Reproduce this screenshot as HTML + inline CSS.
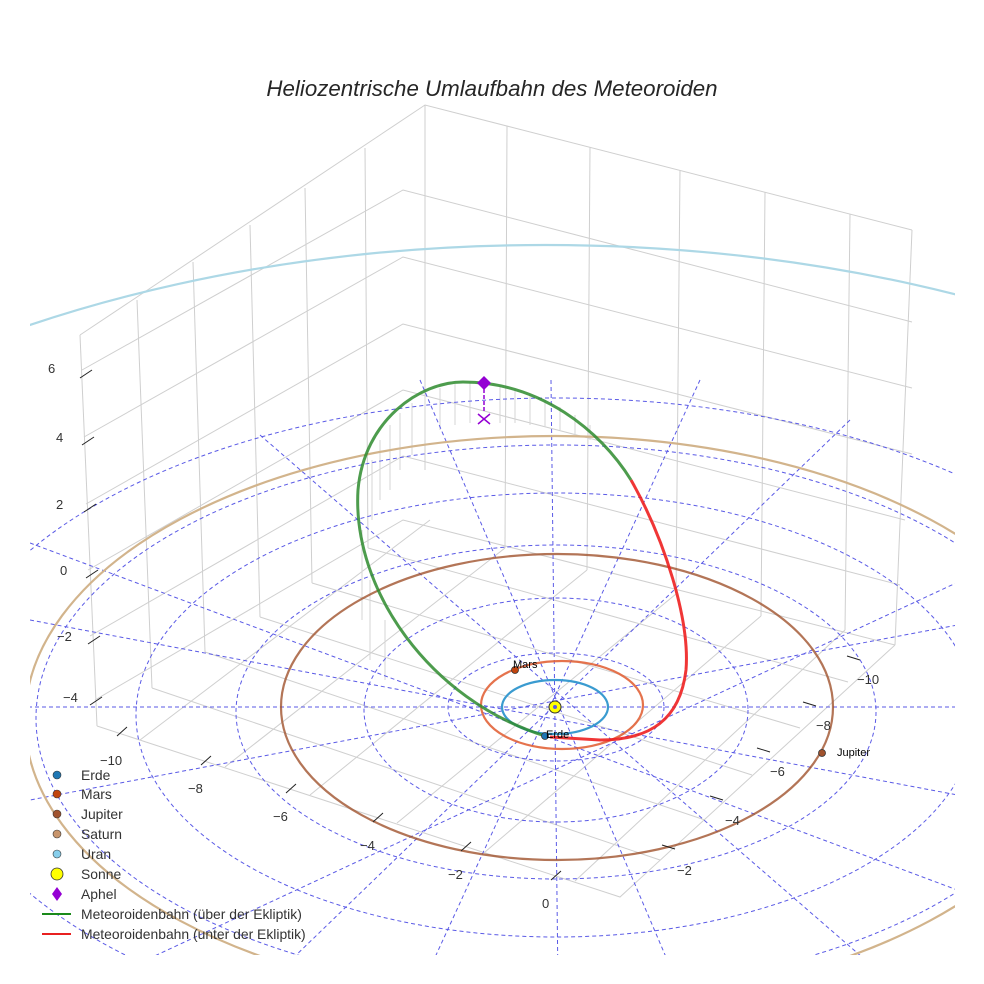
<!DOCTYPE html>
<html><head><meta charset="utf-8"><style>
html,body{margin:0;padding:0;background:#fff;overflow:hidden;width:984px;height:984px;}
svg{display:block;font-family:"Liberation Sans",sans-serif;}
</style></head><body>
<svg width="984" height="984" viewBox="0 0 984 984" xmlns="http://www.w3.org/2000/svg" overflow="hidden">
<defs><clipPath id="c"><rect x="30" y="40" width="925" height="915"/></clipPath></defs>
<rect width="984" height="984" fill="#fff"/>
<text x="492" y="96" font-size="22.3" font-style="italic" text-anchor="middle" fill="#262626">Heliozentrische Umlaufbahn des Meteoroiden</text>
<g clip-path="url(#c)">
<g stroke="#cfcfcf" stroke-width="1" fill="none">
<path d="M80,335 L425,105 L912,230"/>
<path d="M82,370 L403,190 L912,322"/>
<path d="M84,437 L403,257 L912,388"/>
<path d="M86,504 L403,324 L912,454"/>
<path d="M88,570 L403,390 L905,520"/>
<path d="M90,636 L403,456 L900,585"/>
<path d="M95,700 L403,520 L895,645"/>
<path d="M425,105 L425,470"/>
<path d="M80,335 L97,726"/>
<path d="M137,300 L152,688"/><path d="M193,262 L205,652"/><path d="M250,225 L260,617"/><path d="M305,188 L312,583"/><path d="M365,148 L368,548"/>
<path d="M507,126 L505,548"/><path d="M590,147 L587,570"/><path d="M680,170 L676,594"/><path d="M765,192 L761,616"/><path d="M850,214 L845,630"/><path d="M912,230 L895,645"/>
<path d="M97,726 L620,897 L895,645"/>
<path d="M152,688 L660,860"/><path d="M205,652 L705,820"/><path d="M260,617 L752,775"/><path d="M312,583 L800,728"/><path d="M368,548 L848,682"/>
<path d="M140,740 L430,520"/><path d="M225,767 L505,548"/><path d="M310,795 L587,570"/><path d="M397,823 L676,594"/><path d="M485,852 L761,616"/><path d="M575,881 L845,630"/>
</g>
<g stroke="#d6d6d6" stroke-width="1">
<path d="M372,460 L372,520"/><path d="M380,440 L380,500"/><path d="M390,425 L390,490"/><path d="M400,413 L400,470"/><path d="M412,403 L412,455"/><path d="M425,395 L425,440"/><path d="M440,388 L440,430"/><path d="M455,384 L455,425"/><path d="M470,382 L470,423"/><path d="M500,386 L500,423"/><path d="M515,390 L515,423"/><path d="M530,395 L530,425"/><path d="M545,400 L545,427"/><path d="M560,407 L560,430"/><path d="M575,415 L575,435"/><path d="M590,425 L590,440"/>
<path d="M362,530 L362,620"/><path d="M370,580 L370,660"/><path d="M385,620 L385,680"/>
</g>
<g stroke="#5a5ae6" stroke-width="1" stroke-dasharray="4,3" fill="none">
<ellipse cx="556" cy="707" rx="108" ry="54"/>
<ellipse cx="556" cy="710" rx="192" ry="112"/>
<ellipse cx="556" cy="712" rx="320" ry="167"/>
<ellipse cx="556" cy="715" rx="420" ry="222"/>
<ellipse cx="556" cy="718" rx="520" ry="273"/>
<ellipse cx="556" cy="722" rx="620" ry="324"/>
<path d="M0,707 L984,707"/>
<path d="M551,380 L558,984"/>
<path d="M260,435 L900,990"/>
<path d="M30,543 L984,900"/>
<path d="M850,420 L260,990"/>
<path d="M984,570 L60,1000"/>
<path d="M700,380 L420,990"/>
<path d="M420,380 L680,990"/>
<path d="M984,620 L30,800"/>
<path d="M30,620 L984,800"/>
</g>
<g fill="none" stroke-width="2.2">
<ellipse cx="545" cy="805" rx="1000" ry="560" stroke="#add8e6"/>
<ellipse cx="555" cy="720" rx="530" ry="284" stroke="#d2b48c"/>
<ellipse cx="557" cy="707" rx="276" ry="153" stroke="#a0522d" stroke-opacity="0.8"/>
<ellipse cx="562" cy="705" rx="81" ry="44" stroke="#e2643a" stroke-opacity="0.9"/>
<ellipse cx="555" cy="707" rx="53" ry="27" stroke="#3a9bd0"/>
</g>
<path d="M545,736 C430,700 352,590 358,490 C364,420 420,382 463,382 C540,382 600,430 631,480" fill="none" stroke="#2e8b2e" stroke-width="3" stroke-opacity="0.85"/>
<path d="M631,480 C665,540 690,620 686,670 C680,720 650,740 600,740 L550,737" fill="none" stroke="#ee2020" stroke-width="3" stroke-opacity="0.9"/>
<path d="M484,383 L484,412" stroke="#9400d3" stroke-width="1.5" stroke-dasharray="4,2"/>
<path d="M478,414 L490,424 M490,414 L478,424" stroke="#9400d3" stroke-width="1.5"/>
<path d="M484,376 L491,383 L484,390 L477,383Z" fill="#9400d3"/>
<circle cx="555" cy="707" r="6" fill="#ffff00" stroke="#333" stroke-width="1"/>
<circle cx="555" cy="707" r="2" fill="#5a5ae6"/>
<circle cx="515" cy="670" r="3.5" fill="#c1440e" stroke="#333" stroke-width="0.8"/>
<circle cx="545" cy="736" r="3.5" fill="#1f77b4" stroke="#333" stroke-width="0.8"/>
<circle cx="822" cy="753" r="3.5" fill="#a0522d" stroke="#333" stroke-width="0.8"/>
<g font-size="11" fill="#000">
<text x="513" y="668">Mars</text><text x="546" y="738">Erde</text><text x="837" y="756">Jupiter</text>
</g>
</g>
<g stroke="#222" stroke-width="1">
<path d="M80,378 L92,370"/><path d="M82,445 L94,437"/><path d="M84,512 L96,504"/><path d="M86,578 L98,570"/><path d="M88,644 L100,636"/><path d="M90,705 L102,697"/>
<path d="M117,736 L127,727"/><path d="M201,765 L211,756"/><path d="M286,793 L296,784"/><path d="M373,822 L383,813"/><path d="M461,851 L471,842"/><path d="M551,880 L561,871"/>
<path d="M847,656 L860,660"/><path d="M803,702 L816,706"/><path d="M757,748 L770,752"/><path d="M710,796 L723,800"/><path d="M662,845 L675,849"/>
</g>
<g font-size="13" fill="#333">
<text x="48" y="373">6</text><text x="56" y="442">4</text><text x="56" y="509">2</text><text x="60" y="575">0</text><text x="57" y="641">−2</text><text x="63" y="702">−4</text>
<text x="100" y="765">−10</text><text x="188" y="793">−8</text><text x="273" y="821">−6</text><text x="360" y="850">−4</text><text x="448" y="879">−2</text><text x="542" y="908">0</text>
<text x="857" y="684">−10</text><text x="816" y="730">−8</text><text x="770" y="776">−6</text><text x="725" y="825">−4</text><text x="677" y="875">−2</text>
</g>
<g font-size="13.9" fill="#333">
<circle cx="57" cy="775" r="4" fill="#1f77b4" stroke="#333" stroke-width="0.6"/><text x="81" y="780">Erde</text>
<circle cx="57" cy="794" r="4" fill="#c1440e" stroke="#333" stroke-width="0.6"/><text x="81" y="799">Mars</text>
<circle cx="57" cy="814" r="4" fill="#a0522d" stroke="#333" stroke-width="0.6"/><text x="81" y="819">Jupiter</text>
<circle cx="57" cy="834" r="4" fill="#c8956c" stroke="#333" stroke-width="0.6"/><text x="81" y="839">Saturn</text>
<circle cx="57" cy="854" r="4" fill="#87ceeb" stroke="#333" stroke-width="0.6"/><text x="81" y="859">Uran</text>
<circle cx="57" cy="874" r="6" fill="#ffff00" stroke="#333" stroke-width="0.8"/><text x="81" y="879">Sonne</text>
<path d="M57,887 L62,894 L57,901 L52,894Z" fill="#9400d3"/><text x="81" y="899">Aphel</text>
<path d="M42,914 L71,914" stroke="#1a8a1a" stroke-width="2"/><text x="81" y="919">Meteoroidenbahn (über der Ekliptik)</text>
<path d="M42,934 L71,934" stroke="#e82020" stroke-width="2"/><text x="81" y="939">Meteoroidenbahn (unter der Ekliptik)</text>
</g>
</svg>
</body></html>
